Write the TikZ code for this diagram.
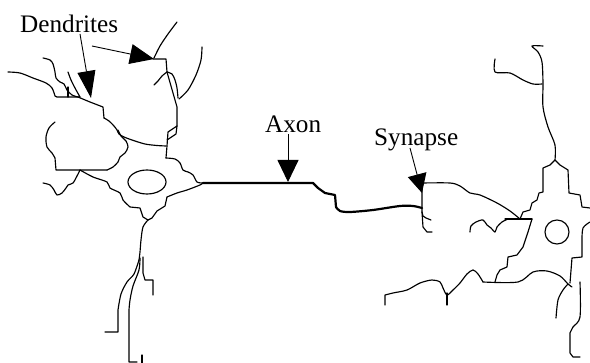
\documentclass[tikz,border=0pt]{standalone}
\usepackage{fontspec}
\setmainfont{Liberation Serif}
\usetikzlibrary{arrows.meta}
\tikzset{
  nrn/.style={line width=1.15pt, line cap=round, line join=round},
  axonline/.style={line width=2.2pt, line cap=round, line join=round},
  lbl/.style={inner sep=0pt, anchor=base west, font=\fontsize{25.2}{29}\selectfont},
  lblarrow/.style={line width=0.9pt, -{Triangle[length=#1]}},
  sm/.style={smooth, tension=0.5},
}
\begin{document}
\begin{tikzpicture}[x=1pt,y=-1pt]
\useasboundingbox (0,0) rectangle (590,363);

% ---------- labels ----------
\node[lbl] (dend) at (20,33) {Dendrites};
\node[lbl] (axon) at (265,133) {Axon};
\node[lbl] (syn) at (374,146) {Synapse};

\coordinate (d1s) at (80,34);  \coordinate (d1t) at (91,98);
\coordinate (d2s) at (92,46);  \coordinate (d2t) at (154,59);
\coordinate (axs) at (288,134); \coordinate (axt) at (288,182);
\coordinate (sys) at (410,148); \coordinate (syt) at (422,193);

% ---------- left neuron ----------
\draw[nrn] plot[sm] coordinates {(8,72) (20,73) (33,78) (46,83) (52,88) (55,96)} -- (57,97) -- (80,97);
\draw[nrn] (68,87) -- (68,97);
\draw[nrn] plot[sm] coordinates {(43,58) (50,60) (53,64) (55,72) (56,78) (60,82) (64,84) (67,90) (72,95) (78,97)};
\draw[nrn] plot[sm] coordinates {(68,72) (71,80) (75,88) (80,97)};
\draw[nrn] plot[sm] coordinates {(78,97) (90,102) (103,107)} -- (104,118);
\draw[nrn] plot[sm] coordinates {(104,118) (109,121) (114,126) (117,130) (119,134) (124,137) (132,140) (145,144) (157,145.5) (166,146)};
\draw[nrn] (153,59) -- (166,59) -- (167,72);
\draw[nrn] (167,72) -- (177,107) -- (177,126) -- (168,132) -- (167,146) -- (166,158);
\draw[nrn] (177,126) -- (176,134) -- (167,140);
\draw[nrn] plot[sm] coordinates {(167,72) (162,76) (158,81) (154,85)};
\draw[nrn] plot[sm] coordinates {(167,72) (172,74) (175,80) (177,88) (178,98)};
\draw[nrn] plot[sm] coordinates {(177,22) (168,34) (160,46) (154,58)};
\draw[nrn] plot[sm] coordinates {(202,47) (201,60) (196,75) (188,90) (179,99)};
\draw[nrn] plot[sm] coordinates {(55,122) (49,128) (46,137) (47,147) (52,153) (55,158)} -- (56,170) -- (107,170);
\draw[nrn] plot[sm] coordinates {(118,130) (121,136) (126,141) (128,147) (125,153) (120,157) (118,162) (113,167) (107,170)};
\draw[nrn] plot[sm] coordinates {(43,183) (50,185) (54,190) (57,195) (62,193) (66,188) (68,185) (73,183) (77,176) (80,170)};
\draw[nrn] plot[sm] coordinates {(80,170) (93,177) (107,182) (110,188) (120,193) (123,200) (130,207)} -- (140,208) -- (143,217) -- (148,220);
\draw[nrn] (148,220) -- (152,218) -- (157,211) -- (165,206) -- (167,197);
\draw[nrn] plot[sm] coordinates {(167,197) (177,193) (187,190) (200,185) (203,183)};
\draw[nrn] plot[sm] coordinates {(166,158) (175,159) (180,163) (183,170) (188,172) (193,175) (197,182) (203,183)};
\draw[nrn] (147,182) ellipse [x radius=19, y radius=12];
\draw[nrn] plot[sm] coordinates {(148,220) (143,227) (141,240) (140,252) (139,260)};
\draw[nrn] plot[sm] coordinates {(139,260) (134,274) (127,282) (121,294) (118,310)} -- (118,332) -- (105,332);
\draw[nrn] plot[sm] coordinates {(140,258) (139,270) (133,286) (130,300) (129,310)} -- (129,362) -- (137,362);
\draw[nrn] (142,355) -- (142,363);
\draw[nrn] (143,257) -- (143,273) -- (145,280) -- (153,280) -- (153,295);

% ---------- axon ----------
\draw[axonline] (203,183) -- (313,183) -- (318,188) -- (325,193) -- (335,195) -- (336,207);
\draw[axonline] plot[sm] coordinates {(336,207) (340,211) (350,212) (373,210) (400,206) (413,206) (422,208)};

% ---------- synapse ----------
\draw[nrn] (422,180) -- (422,212) -- (423,216) -- (426,218) -- (431,220);
\draw[nrn] (422,212) -- (423,227) -- (427,232) -- (432,232);
\draw[nrn] plot[sm] coordinates {(422,183) (450,183) (460,186) (470,193) (480,195) (497,203) (510,211) (520,219)};

% ---------- right neuron ----------
\draw[nrn] (505,219) -- (532,219);
\draw[nrn] plot[sm] coordinates {(470,232) (471,226) (476,222) (483,220) (487,225) (491,228) (495,232) (497,227) (502,222) (508,219)};
\draw[nrn] (532,219) -- (528,232) -- (523,247) -- (517,255) -- (508,257) -- (507,267) -- (500,270) -- (497,275) -- (495,282);
\draw[nrn] plot[sm] coordinates {(483,282) (518,282) (533,272) (547,271) (560,276) (568,284) (572,287)};
\draw[nrn] plot[sm] coordinates {(483,282) (478,274) (473,270) (467,274) (460,283) (453,290) (447,295) (443,288) (440,282) (432,280) (420,283) (407,290) (393,293) (385,295)} -- (385,305);
\draw[nrn] (447,293) -- (447,305);
\draw[nrn] (520,219) -- (523,212) -- (530,210) -- (532,203) -- (537,200) -- (539,193) -- (543,192) -- (543,168) -- (550,165) -- (555,160) -- (560,165) -- (568,170) -- (569,193) -- (580,195) -- (582,207) -- (590,208);
\draw[nrn] plot[sm] coordinates {(543,46) (532,46) (538,52) (542,62) (543,83) (543,107) (548,127) (555,145) (555,160)};
\draw[nrn] plot[sm] coordinates {(495,59) (495,72) (510,73) (523,80) (533,84) (542,84)};
\draw[nrn] plot[sm] coordinates {(590,222) (583,228) (582,240)} -- (582,257) -- (572,258) -- (570,283);
\draw[nrn] plot[sm] coordinates {(580,282) (580,317) (573,327) (570,333)} -- (570,353) -- (573,357) -- (580,357);
\draw[nrn] plot[sm] coordinates {(568,284) (563,290) (558,300) (556,318)};
\draw[nrn] (557,232) circle [radius=12];

% ---------- label arrows ----------
\draw[lblarrow={27pt, width=18pt}] (d1s) -- (d1t);
\draw[lblarrow={24pt, width=20pt}] (d2s) -- (d2t);
\draw[lblarrow={22pt, width=21pt}] (axs) -- (axt);
\draw[lblarrow={19pt, width=19pt}] (sys) -- (syt);
\end{tikzpicture}
\end{document}
